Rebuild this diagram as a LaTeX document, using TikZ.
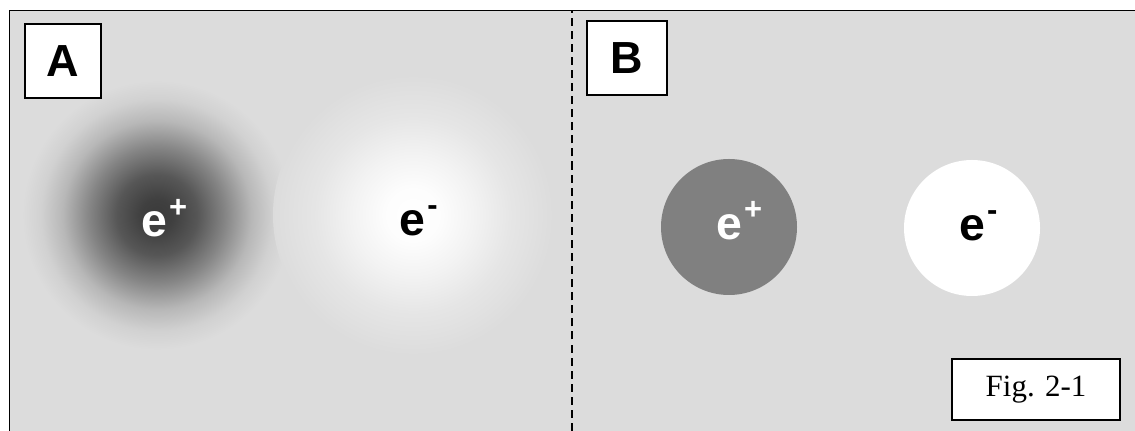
\documentclass[tikz,border=0pt]{standalone}
\usepackage{fontspec}
\setmainfont{Liberation Serif}
\newfontfamily\labelfont{Liberation Sans}

\definecolor{panelgray}{RGB}{220,220,220}
\definecolor{posgray}{RGB}{128,128,128}

% smeared charge clouds, 25bp is the rim of the shaded circle
\pgfdeclareradialshading{cloudpos}{\pgfpoint{0bp}{0bp}}{%
  rgb(0bp)=(0.23,0.23,0.23); rgb(3bp)=(0.25,0.25,0.25);
  rgb(7.5bp)=(0.34,0.34,0.34); rgb(12.5bp)=(0.52,0.52,0.52);
  rgb(17.5bp)=(0.72,0.72,0.72); rgb(21.5bp)=(0.82,0.82,0.82);
  rgb(25bp)=(0.863,0.863,0.863); rgb(50bp)=(0.863,0.863,0.863)}
\pgfdeclareradialshading{cloudneg}{\pgfpoint{0bp}{0bp}}{%
  rgb(0bp)=(1,1,1); rgb(5bp)=(0.99,0.99,0.99);
  rgb(11bp)=(0.95,0.95,0.95); rgb(17.5bp)=(0.90,0.90,0.90);
  rgb(25bp)=(0.863,0.863,0.863); rgb(50bp)=(0.863,0.863,0.863)}

% raised sign that takes no room
\newcommand\chg[1]{\smash{\rlap{\hspace{1.5pt}\raisebox{14pt}{\fontsize{22}{22}\selectfont #1}}}}

\begin{document}
\begin{tikzpicture}[
    tag/.style={draw, line width=0.8pt, fill=white, minimum height=1.85cm,
      font=\labelfont\bfseries\fontsize{32}{32}\selectfont},
    charge/.style={inner sep=0pt, font=\labelfont\bfseries\fontsize{33}{33}\selectfont},
    disc/.style={circle, minimum size=3.4cm, inner sep=0pt,
      font=\labelfont\bfseries\fontsize{33}{33}\selectfont}
  ]
  \useasboundingbox (0,0) rectangle (28.375,10.775);
  \fill[panelgray] (0.25,0) rectangle (28.375,10.5);

  % A: smeared charges
  \shade[shading=cloudpos] (3.925,5.4) circle (3.375);
  \shade[shading=cloudneg] (10.325,5.4) circle (3.5);
  \node[charge, text=white] (posA) at (3.85,5.16) {e\chg{+}};
  \node[charge] (negA) at (10.31,5.2) {e\chg{-}};

  % frame and split
  \draw[line width=1.4pt] (0.2375,0) -- (0.2375,10.5125) -- (28.375,10.5125);
  \draw[line width=1.1pt, dash pattern=on 5.7pt off 3.6pt] (14.3,0) -- (14.3,10.5);

  \node[tag, minimum width=1.9cm] (A) at (1.575,9.25) {A};
  \node[tag, minimum width=2cm] (B) at (15.675,9.325) {B};

  % B: point charges
  \node[disc, fill=posgray, text=white] (posB) at (18.225,5.1) {e\chg{+}};
  \node[disc, fill=white] (negB) at (24.3,5.075) {e\chg{-}};

  \node[draw, line width=0.8pt, fill=white, minimum width=4.2cm, minimum height=1.525cm,
    font=\fontsize{22}{22}\selectfont] (fig) at (25.9,1.0375) {Fig. 2-1};
\end{tikzpicture}
\end{document}
